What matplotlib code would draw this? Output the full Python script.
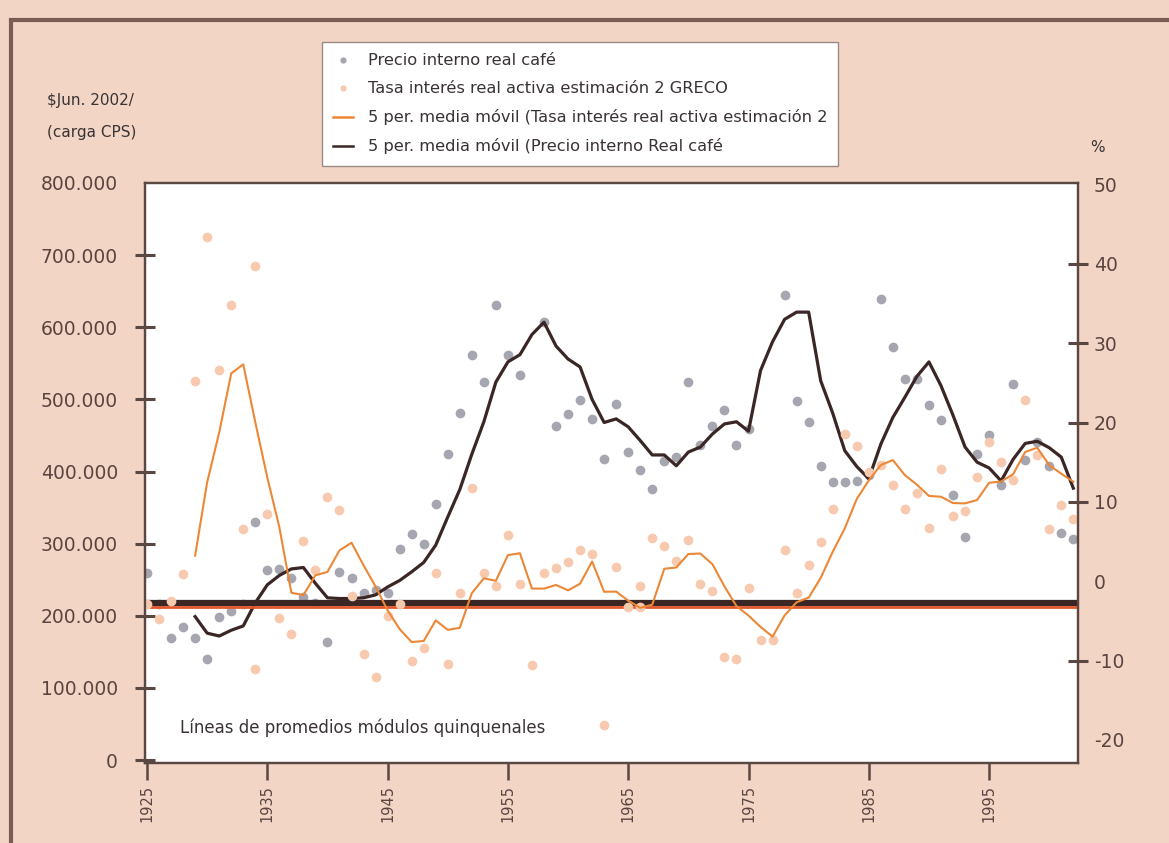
import numpy as np
import pandas as pd
import matplotlib
matplotlib.use("Agg")
import matplotlib.pyplot as plt
from matplotlib.lines import Line2D
from matplotlib.patches import Rectangle

plt.rcParams['font.family'] = ['DejaVu Sans']

years = list(range(1925, 2003))

# Precio interno real café ($ Jun. 2002 / carga CPS); NaN = no visible point
price = [259, 216, 169, 184, 169, 140, 199, 207, 216, 330,
         263, 265, 253, 226, 218, 164, 261, 253, 231, 236,
         231, 292, 313, 300, 355, 425, 481, 561, 524, 631,
         562, 534, np.nan, 607, 463, 480, 499, 473, 418, 494,
         427, 402, 376, 414, 420, 524, 437, 463, 485, 437,
         459, np.nan, np.nan, 645, 498, 469, 408, 386, 386, 387,
         395, 639, 573, 528, 528, 492, 472, 368, 309, 424,
         451, 381, 521, 416, 441, 408, 315, 306]
price = [v * 1000 for v in price]

# Tasa interés real activa estimación 2 GRECO (%)
rate = [-2.8, -4.7, -2.5, 0.9, 25.3, 43.4, 26.6, 34.8, 6.6, -11.1,
        8.5, -4.6, -6.6, 5.1, 1.4, 10.6, 9.0, -1.8, -9.1, -12.0,
        -4.4, -2.8, -10.0, -8.4, 1.0, -10.4, -1.5, 11.8, 1.0, -0.6,
        5.8, -0.3, -10.5, 1.0, 1.7, 2.4, 3.9, 3.5, -18.1, 1.8,
        -3.3, -0.6, 5.5, 4.5, 2.6, 5.2, -0.3, -1.2, -9.5, -9.8,
        -0.8, -7.4, -7.4, 3.9, -1.5, 2.1, 5.0, 9.1, 18.6, 17.1,
        13.8, 14.7, 12.2, 9.1, 11.1, 6.7, 14.2, 8.2, 8.9, 13.2,
        17.6, 15.0, 12.8, 22.9, 15.9, 6.6, 9.6, 7.8]

# additional rate points visible in the chart
rate_extra_years = [1934, 1966]
rate_extra = [39.8, -3.2]

# 5 per. media móvil (Precio interno Real café), from 1929
price_ma_years = list(range(1929, 2003))
price_ma = [199, 176, 172, 180, 186, 218, 243, 256, 265, 267,
            245, 225, 224, 224, 225, 229, 240, 249, 261, 274,
            298, 337, 375, 424, 469, 524, 552, 562, 590, 607,
            574, 556, 545, 500, 468, 473, 462, 443, 423, 423,
            408, 427, 434, 452, 466, 469, 456, 540, 580, 611,
            621, 621, 526, 481, 429, 407, 390, 438, 475, 503,
            532, 552, 519, 478, 434, 413, 405, 387, 417, 439,
            442, 433, 420, 377]
price_ma = [v * 1000 for v in price_ma]

# Líneas de promedios (horizontal reference lines)
price_level = 218000
rate_level = -3.3

left_ticks = [0, 100000, 200000, 300000, 400000, 500000, 600000, 700000, 800000]
left_labels = ['0', '100.000', '200.000', '300.000', '400.000', '500.000',
               '600.000', '700.000', '800.000']
right_ticks = [-20, -10, 0, 10, 20, 30, 40, 50]
x_ticks = [1925, 1935, 1945, 1955, 1965, 1975, 1985, 1995]

BG = '#f3d5c6'
TXT = '#5a4440'
SPINE = '#5b4741'
GRAY = '#a6a6b0'
PEACH = '#f7c9ae'
DARK = '#3a2624'
ORANGE = '#ec8736'
RED = '#e2572b'
INK = '#3a3333'

fig = plt.figure(figsize=(11.69, 8.43), dpi=100, facecolor=BG)
ax = fig.add_axes([145/1169, 80/843, 933/1169, 580/843])
ax.set_facecolor('white')
ax2 = ax.twinx()

# rolling mean of the rate series
rate_ma = pd.Series(rate, index=years).rolling(5).mean()

ax.axhline(price_level, color=DARK, lw=4.5, zorder=3)
ax.plot(years, price, 'o', color=GRAY, ms=7, mec='none', zorder=2)
ax.plot(price_ma_years, price_ma, '-', color=DARK, lw=2.3, zorder=4)

ax2.axhline(rate_level, color=RED, lw=2.0, zorder=1)
ax2.plot(years, rate, 'o', color=PEACH, ms=7, mec='none', zorder=2)
ax2.plot(rate_extra_years, rate_extra, 'o', color=PEACH, ms=7, mec='none', zorder=2)
ax2.plot(rate_ma.index, rate_ma.values, '-', color=ORANGE, lw=1.5, zorder=3)

x0 = 1925 - 2/12.03
ax.set_xlim(x0, x0 + 933/12.03)
ax.set_ylim(-4000, 800000)
ax2.set_ylim(-22.9, 50.2)

ax.set_yticks(left_ticks)
ax.set_yticklabels(left_labels)
ax2.set_yticks(right_ticks)
ax2.set_yticklabels([str(t) for t in right_ticks])
ax.set_xticks(x_ticks)
ax.set_xticklabels([str(t) for t in x_ticks], rotation=90)

ax.tick_params(axis='y', direction='inout', length=15, width=2.2, color=SPINE,
               labelsize=13.5, labelcolor=TXT, pad=12)
ax2.tick_params(axis='y', direction='inout', length=15, width=2.2, color=SPINE,
                labelsize=13.5, labelcolor=TXT, pad=4)
ax.tick_params(axis='x', direction='out', length=12, width=1.8, color=SPINE,
               labelsize=10.5, labelcolor=TXT, pad=4)

for t, tick in zip(left_ticks, ax.yaxis.get_major_ticks()):
    if t == 800000:
        tick.tick1line.set_visible(False)
for t, tick in zip(right_ticks, ax2.yaxis.get_major_ticks()):
    if t in (50, 0, -20):
        tick.tick2line.set_visible(False)

for a in (ax, ax2):
    for s in a.spines.values():
        s.set_color(SPINE)
        s.set_linewidth(1.6)

ax.text(35/933, 35/580, 'Líneas de promedios módulos quinquenales', transform=ax.transAxes,
        fontsize=12, color=INK, va='center', ha='left')

fig.text(47/1169, 1 - 100/843, '$Jun. 2002/', fontsize=11, color=INK, va='center')
fig.text(47/1169, 1 - 132/843, '(carga CPS)', fontsize=11, color=INK, va='center')
fig.text(1090/1169, 1 - 147/843, '%', fontsize=11, color=INK, va='center')

handles = [
    Line2D([], [], marker='o', ls='none', color=GRAY, ms=4.5, mec='none'),
    Line2D([], [], marker='o', ls='none', color=PEACH, ms=4.5, mec='none'),
    Line2D([], [], color=ORANGE, lw=1.8),
    Line2D([], [], color=DARK, lw=1.8),
]
labels = ['Precio interno real café',
          'Tasa interés real activa estimación 2 GRECO',
          '5 per. media móvil (Tasa interés real activa estimación 2',
          '5 per. media móvil (Precio interno Real café']
leg = fig.legend(handles, labels, loc='upper left', bbox_to_anchor=(322/1169, 1 - 42/843),
                 fontsize=11.7, frameon=True, fancybox=False, framealpha=1.0,
                 handlelength=1.2, handletextpad=0.9, labelspacing=0.8,
                 borderpad=0.7, borderaxespad=0.0, labelcolor=INK)
leg.get_frame().set_facecolor('white')
leg.get_frame().set_edgecolor('#9a8a86')
leg.get_frame().set_linewidth(1.0)

# outer frame of the figure panel
fig.patches.append(Rectangle((11/1169, -0.05), 1.1, 1 - 20/843 + 0.05, transform=fig.transFigure,
                             fill=False, edgecolor='#7a5d55', lw=3))

fig.savefig('out.png', dpi=100, facecolor=BG)
